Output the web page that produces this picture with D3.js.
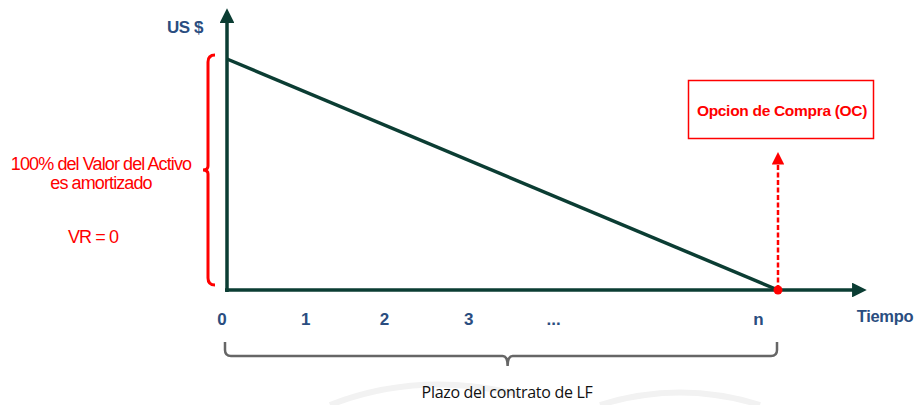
<!DOCTYPE html>
<html>
<head>
<meta charset="utf-8">
<script src="https://cdn.jsdelivr.net/npm/d3@7"></script>
<style>
  body { margin: 0; background: #fff; }
  text { font-family: Arial, "Liberation Sans", sans-serif; }
</style>
</head>
<body>
<div id="chart"></div>
<script>
// datos del grafico
const tickValues = [-0.064, 1, 2, 3.07, 4.15, 6.75];
const tickLabels = ["0", "1", "2", "3", "...", "n"];
const tiempo = [0, 7];
const valorActivo = [100, 0];   // % del valor del activo
const leftNotes = ["100% del Valor del Activo", "es amortizado"];

const W = 917, H = 405;
const green = "#0b3d33", blue = "#2a4d80", red = "#ff0000";

const svg = d3.select("#chart").append("svg")
  .attr("width", W).attr("height", H);

const x = d3.scaleLinear().domain([0, 7]).range([227, 778]);
const y = d3.scaleLinear().domain([0, 100]).range([290, 59]);

const defs = svg.append("defs");
defs.append("marker").attr("id", "arrG")
  .attr("viewBox", "0 0 10 10").attr("refX", 2).attr("refY", 5)
  .attr("markerWidth", 4.2).attr("markerHeight", 4.2).attr("orient", "auto")
  .attr("markerUnits", "strokeWidth")
  .append("path").attr("d", "M0,0L10,5L0,10Z").attr("fill", green);
defs.append("marker").attr("id", "arrR")
  .attr("viewBox", "0 0 10 10").attr("refX", 2).attr("refY", 5)
  .attr("markerWidth", 5).attr("markerHeight", 5).attr("orient", "auto")
  .attr("markerUnits", "strokeWidth")
  .append("path").attr("d", "M0,0L10,5L0,10Z").attr("fill", red);

// marca de agua tenue
svg.append("path")
  .attr("d", "M330,405 Q420,370 520,395 M600,405 Q680,380 760,405")
  .attr("fill", "none").attr("stroke", "#f2f2f2").attr("stroke-width", 6);

// ejes
svg.append("line")
  .attr("x1", x(0)).attr("y1", y(0) + 2).attr("x2", x(0)).attr("y2", 20)
  .attr("stroke", green).attr("stroke-width", 3.5)
  .attr("marker-end", "url(#arrG)");
svg.append("line")
  .attr("x1", x(0) - 2).attr("y1", y(0)).attr("x2", 855).attr("y2", y(0))
  .attr("stroke", green).attr("stroke-width", 3.5)
  .attr("marker-end", "url(#arrG)");

// linea de amortizacion
const pts = tiempo.map((t, i) => [x(t), y(valorActivo[i])]);
svg.append("path")
  .attr("d", d3.line()(pts))
  .attr("fill", "none").attr("stroke", green).attr("stroke-width", 3.5);

// opcion de compra
svg.append("line")
  .attr("x1", x(7)).attr("y1", y(0)).attr("x2", x(7)).attr("y2", 162)
  .attr("stroke", red).attr("stroke-width", 2.5)
  .attr("stroke-dasharray", "5,2.5")
  .attr("marker-end", "url(#arrR)");
svg.append("circle").attr("cx", x(7)).attr("cy", y(0)).attr("r", 4.5).attr("fill", red);

svg.append("rect").attr("x", 688.5).attr("y", 80.5).attr("width", 185).attr("height", 58)
  .attr("fill", "#fff").attr("stroke", red).attr("stroke-width", 1.5);
svg.append("text").attr("x", 782).attr("y", 116).attr("text-anchor", "middle")
  .attr("font-size", 15.5).attr("font-weight", "bold").attr("fill", red)
  .attr("letter-spacing", "-0.3")
  .text("Opcion de Compra (OC)");

// etiquetas de ejes
svg.append("text").attr("x", 185).attr("y", 33).attr("text-anchor", "middle")
  .attr("font-size", 17).attr("font-weight", "bold").attr("fill", blue)
  .attr("letter-spacing", "-0.5").text("US $");
svg.append("text").attr("x", 885).attr("y", 322).attr("text-anchor", "middle")
  .attr("font-size", 16.5).attr("font-weight", "bold").attr("fill", blue)
  .attr("letter-spacing", "-0.3").text("Tiempo");

svg.append("g").selectAll("text").data(tickValues).join("text")
  .attr("x", d => x(d))
  .attr("y", 325)
  .attr("text-anchor", "middle")
  .attr("font-size", 17).attr("font-weight", "bold").attr("fill", blue)
  .text((d, i) => tickLabels[i]);

// llave roja vertical
function vBrace(xr, y0, y1, w) {
  const m = (y0 + y1) / 2, r = 7;
  return `M${xr},${y0} Q${xr - r},${y0} ${xr - r},${y0 + r} L${xr - r},${m - 4} Q${xr - r},${m} ${xr - w},${m}` +
    ` Q${xr - r},${m} ${xr - r},${m + 4} L${xr - r},${y1 - r} Q${xr - r},${y1} ${xr},${y1}`;
}
svg.append("path").attr("d", vBrace(215, y(100) - 4, y(0) - 5, 12))
  .attr("fill", "none").attr("stroke", red).attr("stroke-width", 3);

svg.append("g").selectAll("text").data(leftNotes).join("text")
  .attr("x", 101).attr("y", (d, i) => 170 + i * 19)
  .attr("text-anchor", "middle").attr("font-size", 18).attr("fill", red)
  .attr("letter-spacing", "-0.9")
  .text(d => d);
svg.append("text").attr("x", 93).attr("y", 243).attr("text-anchor", "middle")
  .attr("font-size", 18).attr("fill", red).attr("letter-spacing", "-0.9").text("VR = 0");

// llave gris horizontal
function hBrace(x0, x1, yt, h) {
  const m = x0 + (x1 - x0) * 0.512, r = 6;
  return `M${x0},${yt} L${x0},${yt + h - r} Q${x0},${yt + h} ${x0 + r},${yt + h} L${m - 5},${yt + h}` +
    ` Q${m},${yt + h} ${m},${yt + h + 10} Q${m},${yt + h} ${m + 5},${yt + h} L${x1 - r},${yt + h}` +
    ` Q${x1},${yt + h} ${x1},${yt + h - r} L${x1},${yt}`;
}
svg.append("path").attr("d", hBrace(x(0) - 2, x(7) - 1, 342, 14))
  .attr("fill", "none").attr("stroke", "#666").attr("stroke-width", 2.5);
svg.append("text").attr("x", 507).attr("y", 398).attr("text-anchor", "middle")
  .attr("font-size", 16).attr("fill", "#111")
  .style("font-family", "'Open Sans', sans-serif")
  .attr("letter-spacing", "-0.3")
  .text("Plazo del contrato de LF");
</script>
</body>
</html>
